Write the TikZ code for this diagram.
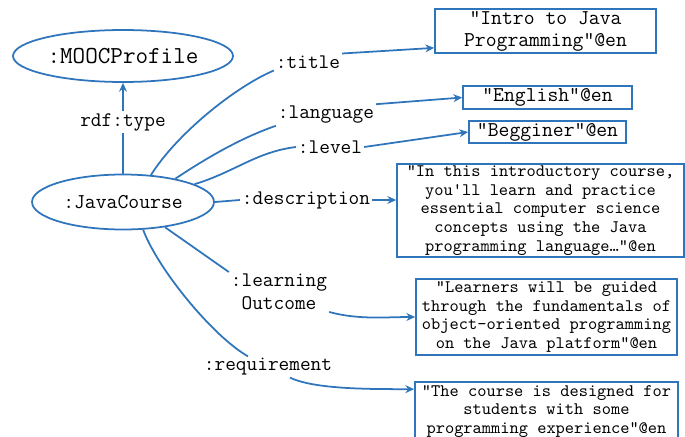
\documentclass[tikz,border=0pt]{standalone}
\usepackage{fontspec}
\usetikzlibrary{shapes.geometric,arrows.meta,calc}
\definecolor{rdfblue}{RGB}{47,117,187}
\begin{document}
\begin{tikzpicture}[x=0.02cm,y=-0.02cm,
  res/.style={ellipse,draw=rdfblue,line width=1pt,inner sep=0pt},
  prop/.style={inner sep=1pt,font=\ttfamily\fontsize{11.8}{13}\selectfont},
  lit/.style={draw=rdfblue,line width=1pt,inner sep=0pt,align=center,font=\ttfamily\fontsize{12}{12.5}\selectfont},
  longlit/.style={lit,font=\ttfamily\fontsize{10}{10.7}\selectfont},
  link/.style={rdfblue,line width=1pt},
  arr/.style={link,-{Stealth[length=5pt,width=4.5pt]}}]
\useasboundingbox (0,0) rectangle (685,436);
\clip (0,0) rectangle (685,436);
\node[res,minimum width=4.4cm,minimum height=1.04cm,font=\ttfamily\fontsize{13.9}{15}\selectfont] (mooc) at (123,56) {:MOOCProfile};
\node[res,minimum width=3.64cm,minimum height=1.1cm,font=\ttfamily\fontsize{12}{13}\selectfont] (java) at (123,202) {:JavaCourse};
\node[prop,fill=white] (type) at (123,122) {rdf:type};
\node[prop] (title) at (308,62) {:title};
\node[prop] (lang) at (326,115) {:language};
\node[prop] (level) at (330,147) {:level};
\node[prop] (desc) at (306,200) {:description};
\node[prop,align=center] (learn) at (279,292) {:learning\\Outcome};
\node[prop] (req) at (268,367) {:requirement};
\node[lit,minimum width=4.42cm,minimum height=0.88cm] (titlebox) at (545.5,31) {“Intro to Java\\Programming”@en};
\node[lit,minimum width=3.38cm,minimum height=0.46cm] (engbox) at (547.5,97.5) {“English”@en};
\node[lit,minimum width=3.14cm,minimum height=0.44cm] (begbox) at (547.5,132) {“Begginer”@en};
\node[longlit,minimum width=5.74cm,minimum height=1.86cm] (descbox) at (540.5,210.5) {“In this introductory course,\\you'll learn and practice\\essential computer science\\concepts using the Java\\programming language…”@en};
\node[longlit,minimum width=5.22cm,minimum height=1.52cm] (learnbox) at (546.5,317) {“Learners will be guided\\through the fundamentals of\\object-oriented programming\\on the Java platform”@en};
\node[longlit,minimum width=5.26cm,minimum height=1.18cm] (reqbox) at (546.5,411.5) {“The course is designed for\\students with some\\programming experience”@en};
\draw[link] (java.north) -- (type.south);
\draw[arr] (type.north) -- (mooc.south);
\draw[link] (java.44) .. controls +(25,-40) and +(-40,17) .. (title.south west);
\draw[link] (java.24) .. controls +(30,-20) and +(-35,12) .. (lang.south west);
\draw[link] (java.14) .. controls +(40,-12) and +(-40,5) .. (level.west);
\draw[link] (java.east) -- (desc.west);
\draw[link] (java.-31) -- (learn.north west);
\draw[link] (java.-54) .. controls +(15,40) and +(-35,-20) .. ($(req.north)+(-20,0)$);
\draw[arr] (title.north east) -- ($(titlebox.south west)+(0,-6)$);
\draw[arr] (lang.north east) -- (engbox.west);
\draw[arr] (level.east) -- (begbox.west);
\draw[arr] (desc.east) -- (descbox.west |- desc.east);
\draw[arr] (learn.south east) .. controls +(30,8) and +(-30,0) .. (learnbox.west);
\draw[arr] ($(req.south)+(22,0)$) .. controls +(25,12) and +(-40,0) .. ($(reqbox.north west)+(0,8)$);
\end{tikzpicture}
\end{document}
